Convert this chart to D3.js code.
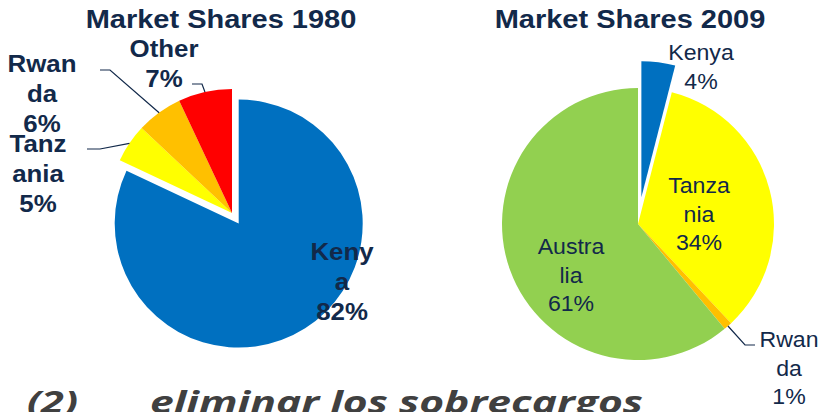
<!DOCTYPE html>
<html>
<head>
<meta charset="utf-8">
<script src="https://cdn.jsdelivr.net/npm/d3@7"></script>
<style>
  body { margin: 0; background: #fff; }
  svg { display: block; }
</style>
</head>
<body>
<div class="chart"></div>
<script>
var svgWidth = 827;
var svgHeight = 412;

// data
var categories1980 = ["Kenya", "Tanzania", "Rwanda", "Other"];
var shares1980 = [82, 5, 6, 7];
var colors1980 = ["#0070C0", "#FFFF00", "#FFC000", "#FF0000"];

var categories2009 = ["Kenya", "Tanzania", "Rwanda", "Australia"];
var shares2009 = [4, 34, 1, 61];
var colors2009 = ["#0070C0", "#FFFF00", "#FFC000", "#92D050"];

var textColor = "#12294A";

var svg = d3.select(".chart")
  .append("svg")
  .attr("width", svgWidth)
  .attr("height", svgHeight);

// label layout: wrapped lines, text centre x, first baseline, leader elbow/end
var layout1980 = [
  { lines: ["Keny", "a", "82%"], x: 342, y: 260 },
  { lines: ["Tanz", "ania", "5%"], x: 38, y: 152, leader: [[100, 149], [87, 149]] },
  { lines: ["Rwan", "da", "6%"], x: 42, y: 72, leader: [[110, 70], [100, 70]] },
  { lines: ["Other", "7%"], x: 164, y: 57, leader: [[202, 84], [192, 84]] }
];
var layout2009 = [
  { lines: ["Kenya", "4%"], x: 701, y: 60 },
  { lines: ["Tanza", "nia", "34%"], x: 699, y: 193 },
  { lines: ["Rwan", "da", "1%"], x: 789, y: 347, leader: [[745, 345], [755, 345]] },
  { lines: ["Austra", "lia", "61%"], x: 571, y: 254 }
];

function drawPie(opts) {
  var g = svg.append("g")
    .attr("transform", `translate(${opts.cx}, ${opts.cy})`);

  var pie = d3.pie().sort(null).value(d => d.value);
  var arcs = pie(opts.names.map((n, i) => ({ name: n, value: opts.values[i], color: opts.colors[i] })));

  var arc = d3.arc().innerRadius(0).outerRadius(opts.r);

  g.selectAll("path")
    .data(arcs)
    .enter()
    .append("path")
    .attr("d", arc)
    .attr("fill", d => d.data.color)
    .attr("transform", function(d, i) {
      if (i !== opts.explode) return null;
      var mid = (d.startAngle + d.endAngle) / 2;
      return `translate(${Math.sin(mid) * opts.explodeBy}, ${-Math.cos(mid) * opts.explodeBy})`;
    });

  // title
  svg.append("text")
    .attr("transform", `translate(${opts.titleX}, 28) scale(1.16, 1)`)
    .attr("text-anchor", "middle")
    .attr("font-family", "Liberation Sans, Arial, sans-serif")
    .attr("font-weight", "bold")
    .attr("font-size", 25)
    .attr("fill", textColor)
    .text(opts.title);

  // data labels
  arcs.forEach(function(d, i) {
    var lab = opts.layout[i];
    if (lab.leader) {
      var mid = (d.startAngle + d.endAngle) / 2;
      var start = [opts.cx + Math.sin(mid) * opts.r, opts.cy - Math.cos(mid) * opts.r];
      svg.append("polyline")
        .attr("points", [start].concat(lab.leader).map(p => p.join(",")).join(" "))
        .attr("fill", "none")
        .attr("stroke", textColor)
        .attr("stroke-width", 1.2);
    }
    lab.lines.forEach(function(line, j) {
      svg.append("text")
        .attr("transform", `translate(${lab.x}, ${lab.y + j * opts.lineH}) scale(${opts.stretch}, 1)`)
        .attr("text-anchor", "middle")
        .attr("font-family", "Liberation Sans, Arial, sans-serif")
        .attr("font-weight", opts.bold ? "bold" : "normal")
        .attr("font-size", opts.fontSize)
        .attr("fill", textColor)
        .text(line);
    });
  });
}

drawPie({
  names: categories1980, values: shares1980, colors: colors1980,
  cx: 232, cy: 213, r: 124, explode: 0, explodeBy: 12.5,
  title: "Market Shares 1980", titleX: 221,
  layout: layout1980, bold: true, fontSize: 23.5, lineH: 30, stretch: 1.1
});

drawPie({
  names: categories2009, values: shares2009, colors: colors2009,
  cx: 638, cy: 224, r: 136, explode: 0, explodeBy: 27,
  title: "Market Shares 2009", titleX: 630,
  layout: layout2009, bold: false, fontSize: 22, lineH: 28.5, stretch: 1.05
});

// slide text underneath, cut by the bottom edge
var footer = svg.append("g")
  .attr("font-family", "Open Sans, sans-serif")
  .attr("font-weight", "bold")
  .attr("font-style", "italic")
  .attr("font-size", 30)
  .attr("fill", "#404040");

footer.append("text")
  .attr("x", 27)
  .attr("y", 413)
  .attr("textLength", 51)
  .attr("lengthAdjust", "spacingAndGlyphs")
  .text("(2)");

footer.append("text")
  .attr("x", 150)
  .attr("y", 413)
  .attr("textLength", 493)
  .attr("lengthAdjust", "spacingAndGlyphs")
  .text("eliminar los sobrecargos");
</script>
</body>
</html>
